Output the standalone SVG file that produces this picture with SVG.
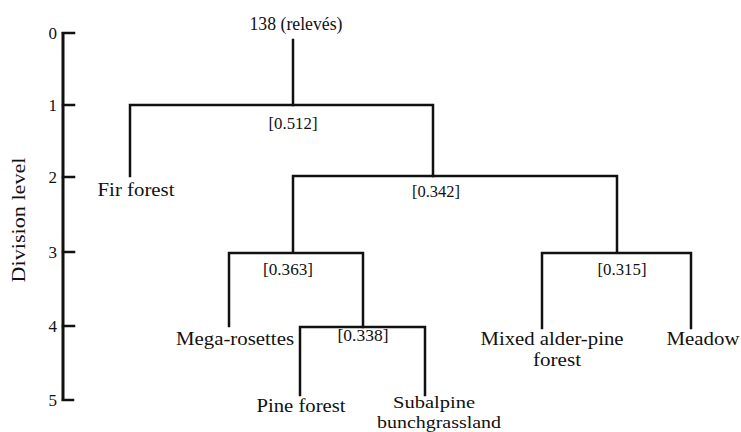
<svg xmlns="http://www.w3.org/2000/svg" width="741" height="432" viewBox="0 0 741 432">
<style>
text{font-family:"Liberation Serif","Times New Roman",serif;fill:#111}
.lbl{font-size:19px;text-anchor:middle}
.sm{font-size:17px}
.num{font-size:16.5px;text-anchor:middle}
.tick{font-size:17px;text-anchor:end}
.ln{stroke:#111;stroke-width:2.5;fill:none;stroke-linecap:square}
.ax{stroke:#111;stroke-width:3;fill:none}
</style>
<rect width="741" height="432" fill="#fff"/>
<g id="axis">
<path class="ax" d="M63 32V401"/>
<path class="ln" d="M63 33H74M63 105H74M63 177H74M63 252H74M63 326H74M63 400H73"/>
<text class="tick" x="57" y="39">0</text>
<text class="tick" x="57" y="111">1</text>
<text class="tick" x="57" y="183">2</text>
<text class="tick" x="57" y="258">3</text>
<text class="tick" x="57" y="332">4</text>
<text class="tick" x="57" y="406">5</text>
<text class="lbl" transform="translate(25,220) rotate(-90)" textLength="125" lengthAdjust="spacingAndGlyphs">Division level</text>
</g>
<g id="connectors">
<path class="ln" d="M293 40V105"/>
<path class="ln" d="M130 176V105H433V176"/>
<path class="ln" d="M293 252V176H617V252"/>
<path class="ln" d="M229 326V253H363V327"/>
<path class="ln" d="M300 395V327H425V395"/>
<path class="ln" d="M542 328V253H691V328"/>
</g>
<g id="root"><text class="lbl" x="296" y="30" textLength="93" lengthAdjust="spacingAndGlyphs">138 (relevés)</text></g>
<g id="split1"><text class="num" x="293" y="129" textLength="49" lengthAdjust="spacingAndGlyphs">[0.512]</text></g>
<g id="fir"><text class="lbl" x="136" y="196" textLength="77" lengthAdjust="spacingAndGlyphs">Fir forest</text></g>
<g id="split2"><text class="num" x="436" y="197" textLength="48" lengthAdjust="spacingAndGlyphs">[0.342]</text></g>
<g id="split3a"><text class="num" x="288" y="275" textLength="50" lengthAdjust="spacingAndGlyphs">[0.363]</text></g>
<g id="split3b"><text class="num" x="622" y="275" textLength="49" lengthAdjust="spacingAndGlyphs">[0.315]</text></g>
<g id="mega"><text class="lbl" x="235" y="345" textLength="118" lengthAdjust="spacingAndGlyphs">Mega-rosettes</text></g>
<g id="split4"><text class="num" x="363" y="341" textLength="51" lengthAdjust="spacingAndGlyphs">[0.338]</text></g>
<g id="mixed"><text class="lbl" x="552" y="345" textLength="143" lengthAdjust="spacingAndGlyphs">Mixed alder-pine</text><text class="lbl" x="557" y="366" textLength="48" lengthAdjust="spacingAndGlyphs">forest</text></g>
<g id="meadow"><text class="lbl" x="703" y="345" textLength="73" lengthAdjust="spacingAndGlyphs">Meadow</text></g>
<g id="pine"><text class="lbl" x="301" y="412" textLength="89" lengthAdjust="spacingAndGlyphs">Pine forest</text></g>
<g id="subalpine"><text class="lbl sm" x="434" y="408" textLength="82" lengthAdjust="spacingAndGlyphs">Subalpine</text><text class="lbl sm" x="439" y="428" textLength="124" lengthAdjust="spacingAndGlyphs">bunchgrassland</text></g>
</svg>
